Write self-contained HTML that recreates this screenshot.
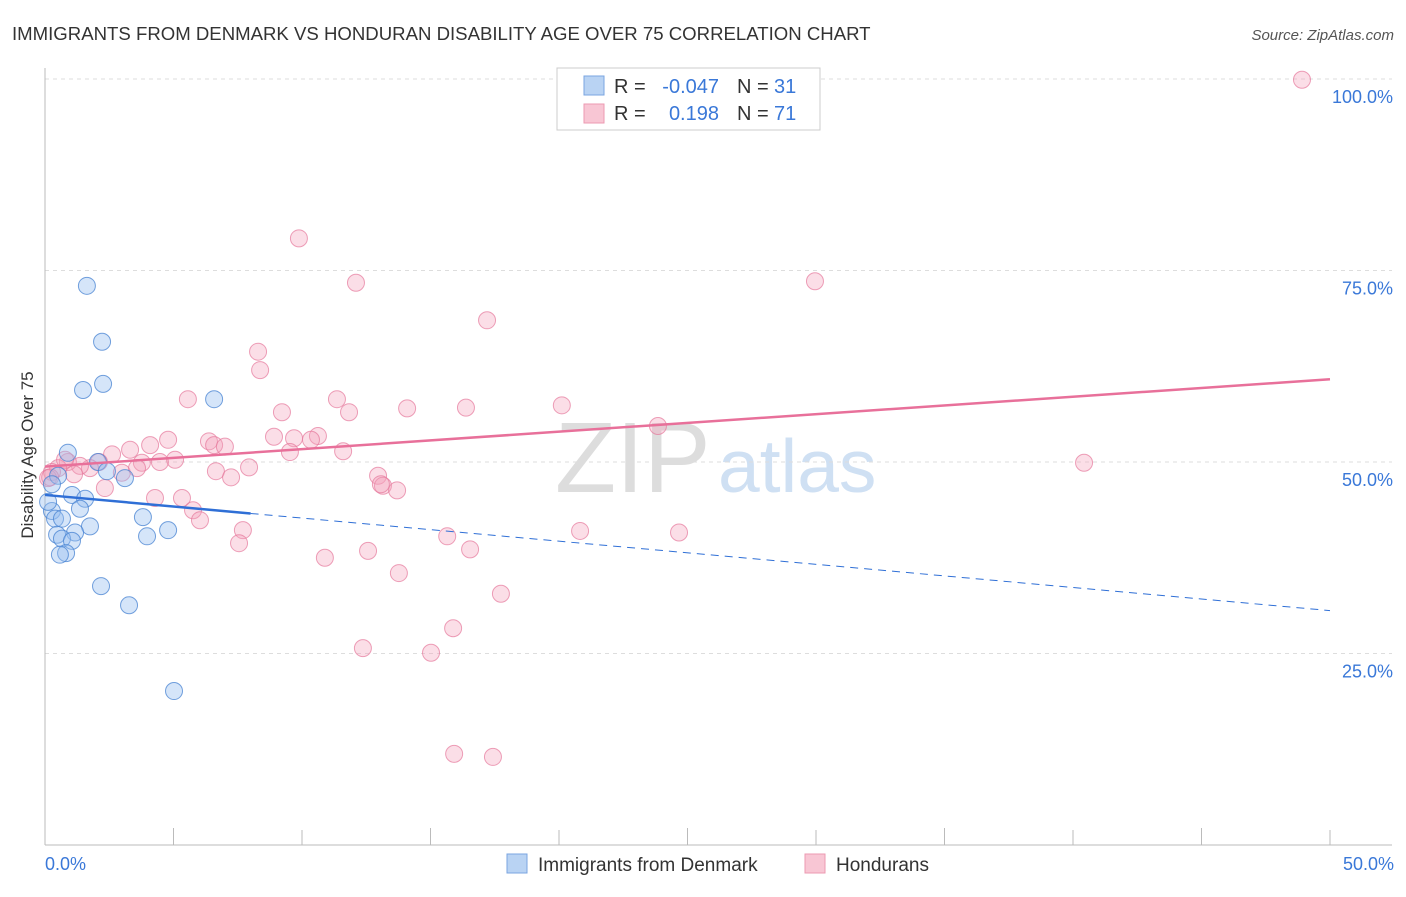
<!DOCTYPE html>
<html><head><meta charset="utf-8"><style>
body{margin:0;background:#fff;font-family:"Liberation Sans",sans-serif;}
svg text{font-family:"Liberation Sans",sans-serif;}
</style></head><body>
<svg width="1406" height="892">
<text x="12" y="40" font-size="18.6" fill="#333">IMMIGRANTS FROM DENMARK VS HONDURAN DISABILITY AGE OVER 75 CORRELATION CHART</text>
<text x="1394" y="40" font-size="15" fill="#555" font-style="italic" text-anchor="end">Source: ZipAtlas.com</text>
<text x="555" y="492" font-size="100" fill="#ddd" font-family="Liberation Serif">ZIP</text>
<text x="718" y="492" font-size="75" fill="#cfe0f3">atlas</text>
<g id="grid"></g>
<line x1="45" y1="68" x2="45" y2="845" stroke="#bbb"/>
<line x1="45" y1="845" x2="1392" y2="845" stroke="#bbb"/>
<text transform="translate(33,455) rotate(-90)" font-size="17" fill="#333" text-anchor="middle">Disability Age Over 75</text>
<text x="45" y="870" font-size="18" fill="#3a78d8">0.0%</text>
<text x="1394" y="870" font-size="18" fill="#3a78d8" text-anchor="end">50.0%</text>
<g id="marks"></g>
<rect x="557" y="68" width="263" height="62" fill="#fff" stroke="#ccc"/>
<rect x="584" y="76" width="20" height="19" fill="#b9d3f3" stroke="#7aa5e0"/>
<rect x="584" y="104" width="20" height="19" fill="#f8c6d4" stroke="#ec9ab2"/>
<g font-size="20">
<text x="614" y="93" fill="#333">R =</text><text x="719" y="93" fill="#3a78d8" text-anchor="end">-0.047</text>
<text x="737" y="93" fill="#333">N =</text><text x="774" y="93" fill="#3a78d8">31</text>
<text x="614" y="120" fill="#333">R =</text><text x="719" y="120" fill="#3a78d8" text-anchor="end">0.198</text>
<text x="737" y="120" fill="#333">N =</text><text x="774" y="120" fill="#3a78d8">71</text>
</g>
<rect x="507" y="854" width="20" height="19" fill="#b9d3f3" stroke="#7aa5e0"/>
<text x="538" y="871" font-size="19" fill="#333">Immigrants from Denmark</text>
<rect x="805" y="854" width="20" height="19" fill="#f8c6d4" stroke="#ec9ab2"/>
<text x="836" y="871" font-size="19" fill="#333">Hondurans</text>
</svg>
<script>
const yTicks=[25,50,75,100];
const xTicks=[0,5,10,15,20,25,30,35,40,45,50];
const blueX=[1.63,2.22,1.48,2.26,6.58,0.89,2.06,2.41,3.11,0.51,1.05,1.56,1.36,0.27,0.39,0.66,1.75,1.17,0.47,0.66,1.05,0.82,0.58,3.81,3.97,4.79,2.18,3.27,5.02,0.27,0.12];
const blueY=[73.0,65.7,59.4,60.2,58.2,51.2,50.0,48.8,47.9,48.2,45.7,45.2,43.9,43.6,42.6,42.6,41.6,40.8,40.5,40.0,39.7,38.1,37.9,42.8,40.3,41.1,33.8,31.3,20.1,47.1,44.8];
const pinkX=[48.91,9.88,12.1,29.96,17.2,8.29,8.37,5.56,11.36,9.22,11.83,14.09,16.38,20.11,23.85,4.79,4.09,3.31,2.61,6.38,6.58,7.0,8.91,9.69,10.62,10.35,11.6,9.53,5.06,4.47,3.77,2.1,1.75,1.36,0.89,0.51,0.27,0.12,1.13,2.99,3.58,6.65,7.24,7.94,12.96,13.15,13.07,13.7,2.33,4.28,5.33,5.76,6.03,7.7,7.55,15.65,20.82,24.67,40.43,12.57,10.89,16.54,13.77,17.74,15.88,12.37,15.02,15.92,17.43,0.2,0.78];
const pinkY=[99.9,79.2,73.4,73.6,68.5,64.4,62.0,58.2,58.2,56.5,56.5,57.0,57.1,57.4,54.7,52.9,52.2,51.6,51.0,52.7,52.2,52.0,53.3,53.1,53.4,52.9,51.4,51.3,50.3,50.0,49.9,50.0,49.2,49.5,50.0,49.2,48.7,47.9,48.4,48.6,49.2,48.8,48.0,49.3,48.2,46.9,47.1,46.3,46.6,45.3,45.3,43.7,42.4,41.1,39.4,40.3,41.0,40.8,49.9,38.4,37.5,38.6,35.5,32.8,28.3,25.7,25.1,11.9,11.5,48.0,50.3];
const blueTrend=[45.7,30.6], pinkTrend=[49.4,60.8];
const X=v=>45+v/50*1285, Y=v=>845-v/100*766;
const NS='http://www.w3.org/2000/svg';
const grid=document.getElementById('grid'), marks=document.getElementById('marks');
function mk(tag,attrs,parent){const e=document.createElementNS(NS,tag);for(const k in attrs)e.setAttribute(k,attrs[k]);parent.appendChild(e);return e;}
yTicks.forEach(t=>{
 const l=mk('line',{x1:45,x2:1392,y1:Y(t),y2:Y(t),stroke:'#ddd','stroke-dasharray':'4,4'},grid);
 
 
 const tx=mk('text',{x:1393,y:Y(t)+24,'font-size':18,fill:'#3a78d8','text-anchor':'end'},grid);
 tx.textContent=t.toFixed(1)+'%';
 
 
});
xTicks.forEach(t=>{
 const l=mk('line',{x1:X(t),x2:X(t),y1:845,y2:t%10==5?828:830,stroke:'#bbb'},grid);
 
 
});
pinkX.forEach((v,i)=>{
 const c=mk('circle',{cx:X(v),cy:Y(pinkY[i]),r:8.5,fill:'rgba(244,160,185,0.35)',stroke:'rgba(230,120,155,0.7)','stroke-width':1},marks);
 
 
});
blueX.forEach((v,i)=>{
 const c=mk('circle',{cx:X(v),cy:Y(blueY[i]),r:8.5,fill:'rgba(150,190,240,0.4)',stroke:'rgba(70,130,210,0.75)','stroke-width':1},marks);
 
 
});
const pl=mk('line',{x1:X(0),y1:Y(pinkTrend[0]),x2:X(50),y2:Y(pinkTrend[1]),stroke:'#e8709a','stroke-width':2.5},marks);


const bs=blueTrend[0]+(blueTrend[1]-blueTrend[0])*8/50;
const bl=mk('line',{x1:X(0),y1:Y(blueTrend[0]),x2:X(8),y2:Y(bs),stroke:'#2f6fd6','stroke-width':2.5},marks);


const bd=mk('line',{x1:X(8),y1:Y(bs),x2:X(50),y2:Y(blueTrend[1]),stroke:'#2f6fd6','stroke-width':1,'stroke-dasharray':'8,6'},marks);


</script>
</body></html>
